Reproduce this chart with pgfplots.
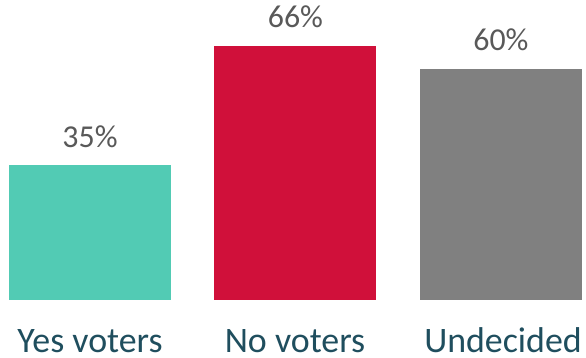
\documentclass[border=0pt]{standalone}
\usepackage{pgfplots}
\pgfplotsset{compat=1.18}
\usepackage{fontspec}
\setmainfont{Carlito}
\definecolor{cteal}{RGB}{82,203,180}
\definecolor{cred}{RGB}{208,16,58}
\definecolor{cgray}{RGB}{128,128,128}
\definecolor{clab}{RGB}{31,78,94}
\definecolor{cval}{RGB}{89,89,89}
\begin{document}
\begin{tikzpicture}
\useasboundingbox (0,-58bp) rectangle (586bp,300bp);
\begin{axis}[
  at={(0,0)}, anchor=south west,
  scale only axis, width=586bp, height=300bp,
  xmin=-0.438, xmax=2.414, ymin=0, ymax=77.92,
  axis lines=none,
  ybar, bar width=162bp, bar shift=0pt,
  xtick={0,1,2}, xticklabels={Yes voters,No voters,Undecided},
  clip=false,
  nodes near coords={\pgfmathprintnumber{\pgfplotspointmeta}\%},
  nodes near coords style={font=\fontsize{32}{36}\selectfont, text=cval, anchor=base, yshift=18bp, inner sep=0pt},
  /pgf/number format/assume math mode=true,
]
\addplot[fill=cteal, draw=none] coordinates {(0,35)};
\addplot[fill=cred, draw=none] coordinates {(1,66)};
\addplot[fill=cgray, draw=none] coordinates {(2,60)};
\end{axis}
\node[anchor=base, inner sep=0pt, text=clab, font=\fontsize{36}{40}\selectfont] at (90bp,-52bp) {Yes voters};
\node[anchor=base, inner sep=0pt, text=clab, font=\fontsize{36}{40}\selectfont] at (295bp,-52bp) {No voters};
\node[anchor=base, inner sep=0pt, text=clab, font=\fontsize{36}{40}\selectfont] at (503bp,-52bp) {Undecided};
\end{tikzpicture}
\end{document}
